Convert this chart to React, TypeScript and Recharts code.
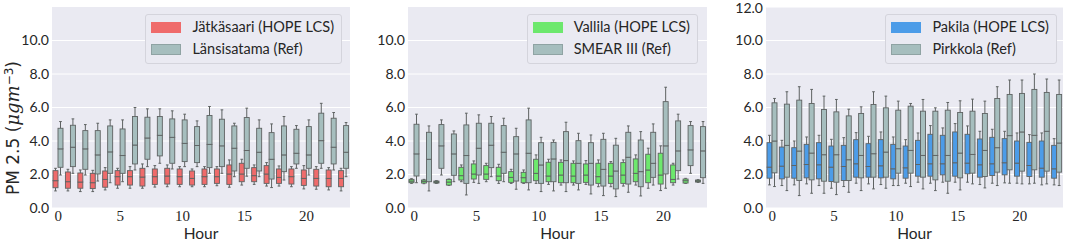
import React from 'react';
import { BarChart, Bar, XAxis, YAxis, CartesianGrid } from 'recharts';

const HOURS = [0, 1, 2, 3, 4, 5, 6, 7, 8, 9, 10, 11, 12, 13, 14, 15, 16, 17, 18, 19, 20, 21, 22, 23];
const X_TICKS = [0, 5, 10, 15, 20];
const Y_TICKS_A = [0, 2, 4, 6, 8, 10];
const Y_TICKS_B = [0, 2, 4, 6, 8, 10, 12];

// Panel 1: Jätkäsaari (HOPE LCS)
const jatkasaariMax = [2.37, 2.31, 2.27, 2.25, 2.41, 2.37, 2.47, 2.63, 2.53, 2.57, 2.47, 2.33, 2.47, 2.47, 2.87, 2.91, 2.57, 2.71, 2.51, 2.47, 2.53, 2.47, 2.41, 2.37];
const jatkasaariQ3 = [2.23, 2.15, 2.09, 2.07, 2.21, 2.23, 2.23, 2.37, 2.33, 2.37, 2.33, 2.21, 2.33, 2.33, 2.57, 2.67, 2.41, 2.53, 2.33, 2.33, 2.27, 2.31, 2.27, 2.23];
const jatkasaariMed = [1.63, 1.57, 1.55, 1.51, 1.71, 1.87, 1.87, 1.85, 1.87, 1.91, 1.87, 1.77, 1.87, 1.87, 2.03, 2.03, 1.93, 2.03, 1.83, 1.87, 1.77, 1.77, 1.77, 1.77];
const jatkasaariQ1 = [1.21, 1.18, 1.18, 1.16, 1.24, 1.37, 1.37, 1.31, 1.41, 1.43, 1.41, 1.37, 1.41, 1.47, 1.41, 1.57, 1.57, 1.47, 1.47, 1.43, 1.35, 1.31, 1.27, 1.27];
const jatkasaariMin = [1.02, 1.02, 0.98, 0.98, 1.08, 1.18, 1.18, 1.18, 1.25, 1.27, 1.27, 1.27, 1.27, 1.33, 1.24, 1.37, 1.41, 1.31, 1.31, 1.27, 1.14, 1.12, 1.08, 1.02];

// Panel 1: Länsisatama (Ref)
const lansisatamaMax = [5.16, 5.32, 4.98, 5.06, 5.26, 5.26, 6.0, 5.92, 5.92, 5.8, 5.6, 5.2, 6.06, 5.86, 5.06, 5.96, 5.26, 5.02, 5.46, 4.92, 5.26, 6.25, 5.7, 5.1];
const lansisatamaQ3 = [4.76, 4.94, 4.62, 4.62, 4.9, 4.72, 5.46, 5.42, 5.46, 5.32, 5.26, 4.86, 5.52, 5.3, 4.9, 5.4, 4.76, 4.5, 4.9, 4.7, 4.86, 5.66, 5.36, 4.92];
const lansisatamaMed = [3.53, 3.63, 3.53, 3.17, 3.35, 3.13, 3.76, 4.18, 4.34, 4.22, 3.86, 3.73, 3.8, 3.71, 3.57, 3.43, 3.33, 2.91, 3.17, 3.27, 3.17, 4.02, 3.63, 3.33];
const lansisatamaQ1 = [2.43, 2.47, 2.31, 2.03, 2.07, 2.07, 2.63, 2.91, 3.11, 2.67, 2.77, 2.71, 2.41, 2.47, 2.21, 2.37, 2.21, 1.73, 2.17, 2.63, 2.37, 2.67, 2.63, 2.37];
const lansisatamaMin = [1.97, 2.07, 1.97, 1.61, 1.51, 1.57, 2.27, 2.47, 2.67, 2.33, 2.47, 2.47, 2.07, 2.07, 1.87, 1.9, 1.87, 1.22, 1.67, 2.37, 1.97, 2.37, 2.27, 1.87];

// Panel 2: Vallila (HOPE LCS)
const vallilaMax = [1.75, 1.71, 1.63, 1.73, 2.57, 2.81, 2.67, 2.61, 2.31, 2.27, 3.17, 2.91, 2.87, 2.81, 2.83, 2.87, 2.77, 2.87, 3.17, 3.57, 3.71, 2.67, 1.77, 1.69];
const vallilaQ3 = [1.71, 1.67, 1.61, 1.71, 2.43, 2.63, 2.53, 2.43, 2.17, 2.13, 2.91, 2.73, 2.73, 2.67, 2.63, 2.67, 2.67, 2.71, 2.93, 3.21, 3.27, 2.57, 1.73, 1.67];
const vallilaMed = [1.61, 1.59, 1.55, 1.55, 1.93, 2.03, 2.03, 1.91, 1.83, 1.81, 2.07, 1.91, 1.97, 1.91, 1.97, 1.87, 1.91, 1.97, 2.07, 2.27, 1.97, 1.71, 1.63, 1.61];
const vallilaQ1 = [1.51, 1.49, 1.49, 1.37, 1.67, 1.73, 1.71, 1.63, 1.53, 1.51, 1.63, 1.57, 1.51, 1.51, 1.53, 1.47, 1.47, 1.47, 1.57, 1.51, 1.43, 1.51, 1.49, 1.55];
const vallilaMin = [1.47, 1.45, 1.47, 1.35, 1.57, 1.53, 1.57, 1.47, 1.47, 1.47, 1.47, 1.41, 1.37, 1.37, 1.41, 1.27, 1.27, 1.31, 1.37, 1.18, 1.04, 1.37, 1.47, 1.53];

// Panel 2: SMEAR III (Ref)
const smearMax = [5.6, 4.9, 5.26, 4.6, 5.66, 5.56, 5.46, 5.36, 4.76, 5.96, 4.22, 4.06, 5.12, 4.46, 4.36, 4.46, 4.16, 4.9, 4.56, 5.02, 7.21, 5.6, 5.16, 5.16];
const smearQ3 = [5.0, 4.52, 4.98, 4.42, 4.96, 5.06, 5.06, 4.92, 4.26, 5.26, 3.9, 3.92, 4.56, 4.02, 3.9, 4.1, 3.75, 4.52, 4.06, 4.52, 6.35, 5.2, 4.92, 4.86];
const smearMed = [3.23, 2.91, 3.71, 3.23, 3.13, 3.57, 3.75, 3.33, 3.23, 3.27, 2.57, 2.93, 2.83, 2.67, 2.67, 2.31, 2.21, 3.03, 2.17, 2.67, 3.71, 3.41, 3.47, 3.41];
const smearQ1 = [1.91, 1.57, 2.37, 1.95, 1.47, 1.97, 2.41, 2.07, 1.61, 1.51, 1.47, 1.57, 1.51, 1.47, 1.37, 1.31, 1.14, 1.43, 1.27, 1.83, 2.03, 2.23, 2.53, 1.81];
const smearMin = [1.51, 1.02, 1.97, 1.57, 0.78, 1.47, 1.87, 1.57, 1.12, 1.08, 0.98, 1.02, 0.98, 1.08, 0.84, 0.74, 0.68, 0.94, 0.72, 1.37, 1.18, 1.73, 2.07, 1.47];

// Panel 3: Pakila (HOPE LCS)
const pakilaMax = [4.34, 4.04, 4.0, 4.24, 4.34, 4.1, 4.2, 4.5, 4.28, 4.54, 4.24, 4.08, 4.48, 4.92, 4.78, 5.04, 4.9, 4.58, 4.7, 4.58, 4.48, 4.38, 4.48, 4.14];
const pakilaQ3 = [3.9, 3.64, 3.6, 3.8, 3.9, 3.7, 3.74, 4.08, 3.84, 4.08, 3.8, 3.7, 4.04, 4.4, 4.34, 4.54, 4.4, 4.12, 4.22, 4.14, 4.0, 3.92, 4.0, 3.74];
const pakilaMed = [2.44, 2.5, 2.54, 2.6, 2.58, 2.44, 2.48, 2.64, 2.48, 2.52, 2.34, 2.4, 2.6, 2.64, 2.64, 2.7, 2.68, 2.58, 2.64, 2.7, 2.68, 2.54, 2.38, 2.34];
const pakilaQ1 = [1.78, 1.74, 1.78, 1.8, 1.74, 1.58, 1.64, 1.84, 1.84, 1.8, 1.74, 1.78, 1.9, 1.9, 1.98, 1.9, 2.04, 1.84, 1.94, 1.98, 1.9, 1.88, 1.84, 1.78];
const pakilaMin = [1.38, 1.34, 1.38, 1.44, 1.34, 1.18, 1.28, 1.48, 1.44, 1.4, 1.34, 1.48, 1.54, 1.48, 1.54, 1.54, 1.54, 1.4, 1.48, 1.5, 1.48, 1.44, 1.38, 1.38];

// Panel 3: Pirkkola (Ref)
const pirkkolaMax = [6.54, 6.94, 7.24, 7.08, 6.68, 6.48, 5.9, 6.04, 6.94, 6.68, 6.38, 6.24, 6.48, 5.98, 6.3, 6.4, 6.5, 6.38, 7.24, 7.64, 7.64, 8.0, 7.7, 7.64];
const pirkkolaQ3 = [6.28, 6.2, 6.44, 6.24, 5.88, 5.74, 5.5, 5.64, 6.18, 5.98, 5.84, 6.08, 5.78, 5.78, 5.84, 5.7, 5.78, 5.64, 6.54, 6.78, 6.84, 7.08, 6.9, 6.78];
const pirkkolaMed = [4.0, 3.74, 3.4, 3.28, 3.18, 3.18, 2.88, 3.14, 3.24, 3.34, 3.54, 3.44, 3.14, 3.14, 3.14, 3.28, 3.2, 3.44, 3.6, 4.32, 4.54, 4.34, 4.58, 3.88];
const pirkkolaQ1 = [2.1, 1.84, 1.64, 1.68, 1.6, 1.54, 1.64, 1.8, 1.84, 1.84, 2.08, 2.08, 1.84, 1.68, 1.6, 1.8, 2.08, 1.88, 2.14, 2.28, 2.2, 2.28, 2.2, 2.14];
const pirkkolaMin = [1.28, 1.04, 0.74, 0.88, 0.88, 0.8, 0.94, 1.04, 1.14, 1.18, 1.34, 1.28, 1.14, 1.04, 0.88, 1.08, 1.44, 1.2, 1.34, 1.48, 1.44, 1.48, 1.44, 1.34];

const LEGEND_1 = ['Jätkäsaari (HOPE LCS)', 'Länsisatama (Ref)'];
const LEGEND_2 = ['Vallila (HOPE LCS)', 'SMEAR III (Ref)'];
const LEGEND_3 = ['Pakila (HOPE LCS)', 'Pirkkola (Ref)'];

const RED = '#EF6B6B';
const GREEN = '#6DE86D';
const BLUE = '#4C9CE8';
const GREY = '#A6BEBE';
const EDGE = '#5E6262';
const BG = '#EAEAF2';
const TEXT = '#262626';

type Stats = { min: number[]; q1: number[]; med: number[]; q3: number[]; max: number[] };

const jatkasaari: Stats = { min: jatkasaariMin, q1: jatkasaariQ1, med: jatkasaariMed, q3: jatkasaariQ3, max: jatkasaariMax };
const lansisatama: Stats = { min: lansisatamaMin, q1: lansisatamaQ1, med: lansisatamaMed, q3: lansisatamaQ3, max: lansisatamaMax };
const vallila: Stats = { min: vallilaMin, q1: vallilaQ1, med: vallilaMed, q3: vallilaQ3, max: vallilaMax };
const smear: Stats = { min: smearMin, q1: smearQ1, med: smearMed, q3: smearQ3, max: smearMax };
const pakila: Stats = { min: pakilaMin, q1: pakilaQ1, med: pakilaMed, q3: pakilaQ3, max: pakilaMax };
const pirkkola: Stats = { min: pirkkolaMin, q1: pirkkolaQ1, med: pirkkolaMed, q3: pirkkolaQ3, max: pirkkolaMax };

function buildRows(a: Stats, b: Stats) {
  return HOURS.map((hour, i) => ({
    hour,
    aBase: a.min[i],
    aLw: a.q1[i] - a.min[i],
    aLb: a.med[i] - a.q1[i],
    aUb: a.q3[i] - a.med[i],
    aUw: a.max[i] - a.q3[i],
    bBase: b.min[i],
    bLw: b.q1[i] - b.min[i],
    bLb: b.med[i] - b.q1[i],
    bUb: b.q3[i] - b.med[i],
    bUw: b.max[i] - b.q3[i],
  }));
}

const EmptyShape = () => <g />;

const makeWhisker = (capTop: boolean) => (props: any) => {
  const { x, y, width, height } = props;
  if (x == null || y == null) return <g />;
  const cx = x + width / 2;
  const capY = capTop ? y : y + height;
  const half = width * 0.27;
  return (
    <g>
      <line x1={cx} x2={cx} y1={y} y2={y + height} stroke={EDGE} strokeWidth={1} />
      <line x1={cx - half} x2={cx + half} y1={capY} y2={capY} stroke={EDGE} strokeWidth={1} />
    </g>
  );
};
const LowerWhisker = makeWhisker(false);
const UpperWhisker = makeWhisker(true);

const BoxShape = (props: any) => {
  const { x, y, width, height, fill } = props;
  if (x == null || y == null) return <g />;
  return <rect x={x} y={y} width={width} height={Math.max(height, 0)} fill={fill} stroke={EDGE} strokeWidth={0.9} />;
};

const XTick = (props: any) => {
  const { x, y, payload } = props;
  if (!X_TICKS.includes(payload.value)) return <g />;
  return (
    <text x={x} y={y} dy={12.5} textAnchor="middle" fontFamily="'Liberation Serif', serif" fontSize={15} fill={TEXT}>
      {payload.value}
    </text>
  );
};

type PanelProps = {
  rows: any[];
  color: string;
  left: number;
  width: number;
  rightMargin: number;
  yTicks: number[];
};

function Panel({ rows, color, left, width, rightMargin, yTicks }: PanelProps) {
  const series = [
    { p: 'a', fill: color },
    { p: 'b', fill: GREY },
  ];
  return (
    <div style={{ position: 'absolute', left, top: 0 }}>
      <BarChart
        width={width}
        height={240}
        data={rows}
        margin={{ top: 7, right: rightMargin, bottom: 0, left: 0 }}
        barGap={0}
      >
        <CartesianGrid fill={BG} stroke="#FFFFFF" strokeWidth={1} vertical={false} horizontalValues={yTicks} />
        <XAxis
          dataKey="hour"
          type="category"
          height={32}
          interval={0}
          tickLine={false}
          axisLine={false}
          tickSize={0}
          tickMargin={0}
          tick={XTick}
        />
        <YAxis
          type="number"
          domain={[0, 12]}
          ticks={yTicks}
          allowDataOverflow
          width={52}
          tickLine={false}
          axisLine={false}
          tickSize={0}
          tickMargin={3}
          tickFormatter={(v: number) => v.toFixed(1)}
          tick={{ fontFamily: 'Lato, sans-serif', fontSize: 14, fill: TEXT }}
        />
        {series.map((s) => [
          <Bar key={s.p + 'Base'} dataKey={s.p + 'Base'} stackId={s.p} barSize={5} fill="transparent" shape={EmptyShape} isAnimationActive={false} />,
          <Bar key={s.p + 'Lw'} dataKey={s.p + 'Lw'} stackId={s.p} barSize={5} fill={s.fill} shape={LowerWhisker} isAnimationActive={false} />,
          <Bar key={s.p + 'Lb'} dataKey={s.p + 'Lb'} stackId={s.p} barSize={5} fill={s.fill} shape={BoxShape} isAnimationActive={false} />,
          <Bar key={s.p + 'Ub'} dataKey={s.p + 'Ub'} stackId={s.p} barSize={5} fill={s.fill} shape={BoxShape} isAnimationActive={false} />,
          <Bar key={s.p + 'Uw'} dataKey={s.p + 'Uw'} stackId={s.p} barSize={5} fill={s.fill} shape={UpperWhisker} isAnimationActive={false} />,
        ])}
      </BarChart>
    </div>
  );
}

function LegendBox({ labels, color, right }: { labels: string[]; color: string; right: number }) {
  const colors = [color, GREY];
  return (
    <div
      style={{
        position: 'absolute',
        top: 14,
        right,
        padding: '1px 7px 3px 5px',
        background: BG,
        border: '1px solid #D4D4DC',
        borderRadius: 3,
        fontFamily: 'Lato, sans-serif',
        fontSize: 14.5,
        color: TEXT,
        lineHeight: '22px',
      }}
    >
      {labels.map((l, i) => (
        <div key={l} style={{ display: 'flex', alignItems: 'center', height: 22, whiteSpace: 'nowrap' }}>
          <span
            style={{
              display: 'inline-block',
              width: 28,
              height: 9,
              background: colors[i],
              border: `1px solid ${colors[i] === GREY ? '#8FA3A3' : colors[i]}`,
              marginRight: 11,
            }}
          />
          <span>{l}</span>
        </div>
      ))}
    </div>
  );
}

const rows1 = buildRows(jatkasaari, lansisatama);
const rows2 = buildRows(vallila, smear);
const rows3 = buildRows(pakila, pirkkola);

export default function App() {
  return (
    <div style={{ position: 'absolute', left: 0, top: 0, width: 1065, height: 240, background: '#FFFFFF', overflow: 'hidden' }}>
      <Panel rows={rows1} color={RED} left={0} width={355} rightMargin={5} yTicks={Y_TICKS_A} />
      <Panel rows={rows2} color={GREEN} left={356} width={356} rightMargin={5} yTicks={Y_TICKS_A} />
      <Panel rows={rows3} color={BLUE} left={714} width={351} rightMargin={2} yTicks={Y_TICKS_B} />
      <svg width={1065} height={240} style={{ position: 'absolute', left: 0, top: 0, pointerEvents: 'none' }}>
        <text
          transform="translate(18.5,128) rotate(-90)"
          textAnchor="middle"
          fontFamily="'DejaVu Sans', sans-serif"
          fontSize={17}
          fill={TEXT}
        >
          PM 2.5 (
          <tspan fontStyle="italic" fontFamily="'DejaVu Serif', serif" fontSize={18}>μgm</tspan>
          <tspan dy={-5.5} fontSize={12}>−3</tspan>
          <tspan dy={5.5}>)</tspan>
        </text>
        {[201, 557.5, 914.5].map((cx) => (
          <text key={cx} x={cx} y={238.5} textAnchor="middle" fontFamily="Lato, sans-serif" fontSize={15.5} fill={TEXT}>
            Hour
          </text>
        ))}
      </svg>
      <LegendBox labels={LEGEND_1} color={RED} right={723} />
      <LegendBox labels={LEGEND_2} color={GREEN} right={367} />
      <LegendBox labels={LEGEND_3} color={BLUE} right={8} />
    </div>
  );
}
